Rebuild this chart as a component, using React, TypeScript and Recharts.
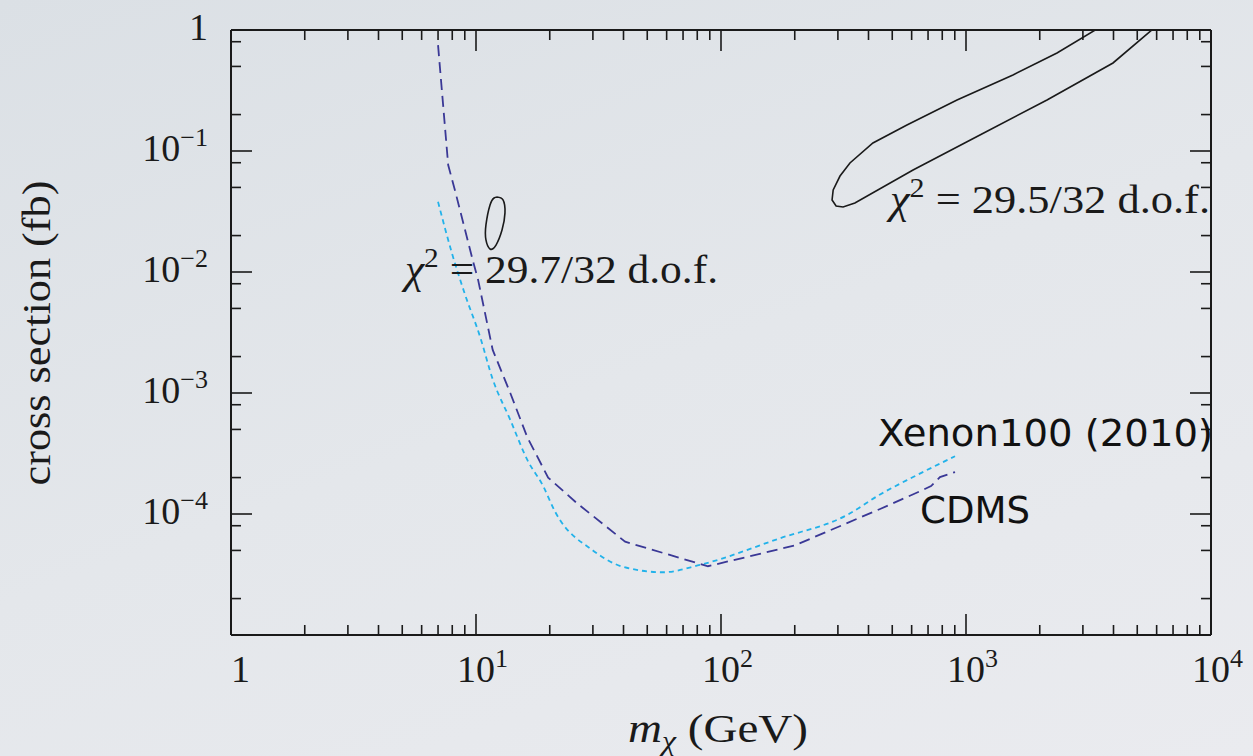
import React from "react";
import { LineChart, Line, XAxis, YAxis } from "recharts";

// axis ticks (log decades with minor marks)
const massTicks = [
  1, 2, 3, 4, 5, 6, 7, 8, 9, 10, 20, 30, 40, 50, 60, 70, 80, 90, 100, 200, 300,
  400, 500, 600, 700, 800, 900, 1000, 2000, 3000, 4000, 5000, 6000, 7000, 8000,
  9000, 10000,
];
const sigmaTicks = [
  1e-5, 2e-5, 5e-5, 8e-5, 1e-4, 2e-4, 5e-4, 8e-4, 1e-3, 2e-3, 5e-3, 8e-3, 0.01,
  0.02, 0.05, 0.08, 0.1, 0.2, 0.5, 0.8, 1,
];

// CDMS limit
const cdmsMass = [7.0, 7.7, 8.2, 9.7, 10.2, 11.7, 13.8, 16.2, 19.7, 25.8, 40.6, 88.5, 200, 446, 667, 720, 783, 902];
const cdmsSigma = [0.75, 0.0766, 0.0476, 0.0125, 8.6e-3, 2.27e-3, 1.0e-3, 4.3e-4, 2.0e-4, 1.23e-4, 5.9e-5, 3.7e-5, 5.5e-5, 1.1e-4, 1.58e-4, 1.7e-4, 2.02e-4, 2.22e-4];

// Xenon100 (2010) limit
const xenonMass = [7.0, 8.0, 9.0, 10.4, 11.7, 13.8, 16.2, 18.8, 21, 30, 40, 58, 82, 174, 327, 446, 608, 902];
const xenonSigma = [0.038, 0.014, 6.6e-3, 2.9e-3, 1.3e-3, 6.0e-4, 2.8e-4, 1.7e-4, 1.05e-4, 5.0e-5, 3.65e-5, 3.3e-5, 3.8e-5, 6.3e-5, 9.8e-5, 1.45e-4, 2.02e-4, 3.0e-4];

// fit contours
const lowFitMass = [12.18, 12.89, 13.13, 12.77, 12.07, 11.41, 10.98, 10.98, 11.41, 11.85, 12.18];
const lowFitSigma = [0.0417, 0.0394, 0.0308, 0.0222, 0.0167, 0.0155, 0.0184, 0.0245, 0.0358, 0.0409, 0.0417];
const highFitMass = [3425, 2352, 1555, 919, 574, 417, 336, 306, 287, 284, 295, 315, 352, 608, 1140, 2141, 3981, 5799];
const highFitSigma = [1.02, 0.645, 0.425, 0.264, 0.164, 0.1165, 0.0796, 0.0621, 0.0476, 0.0394, 0.0351, 0.0345, 0.0372, 0.0697, 0.1356, 0.264, 0.534, 1.02];

const toPoints = (ms: number[], ss: number[]) => ms.map((m, i) => ({ m, s: ss[i] }));

const SERIF = "'Liberation Serif', 'DejaVu Serif', serif";
const SANS = "'DejaVu Sans', 'Open Sans', sans-serif";
const INK = "#1a1a1a";

const isDecade = (v: number) => Math.abs(Math.log10(v) - Math.round(Math.log10(v))) < 1e-6;

const PowerText = (props: { x: number; y: number; v: number; anchor: string }) => {
  const exp = Math.round(Math.log10(props.v));
  if (exp === 0) {
    return (
      <text x={props.x} y={props.y} textAnchor={props.anchor} fontFamily={SERIF} fontSize={38} fill={INK}>
        1
      </text>
    );
  }
  const sup = exp < 0 ? `\u2212${-exp}` : `${exp}`;
  return (
    <text x={props.x} y={props.y} textAnchor={props.anchor} fontFamily={SERIF} fontSize={38} fill={INK}>
      <tspan>10</tspan>
      <tspan fontSize={26} dy={-15}>{sup}</tspan>
    </text>
  );
};

const MassTick = (props: any) => {
  const { x, y, payload, side } = props;
  const v = payload.value;
  const major = isDecade(v);
  const len = major ? 21 : 10;
  const dir = side === "bottom" ? -1 : 1;
  return (
    <g>
      <line x1={x} y1={y} x2={x} y2={y + dir * len} stroke={INK} strokeWidth={1.6} />
      {side === "bottom" && major && (
        <PowerText x={v === 1 ? x : x - 19} y={y + 47} v={v} anchor="start" />
      )}
    </g>
  );
};

const SigmaTick = (props: any) => {
  const { x, y, payload, side } = props;
  const v = payload.value;
  const major = isDecade(v);
  const len = major ? 21 : 10;
  const dir = side === "left" ? 1 : -1;
  return (
    <g>
      <line x1={x} y1={y} x2={x + dir * len} y2={y} stroke={INK} strokeWidth={1.6} />
      {side === "left" && major && v > 1e-5 && (
        <PowerText x={x - 23} y={y + 10} v={v} anchor="end" />
      )}
    </g>
  );
};

const frame = { stroke: INK, strokeWidth: 2 };

export default function App() {
  return (
    <div
      style={{
        position: "absolute",
        left: 0,
        top: 0,
        width: 1253,
        height: 756,
        background: "linear-gradient(160deg, #dbe0e5 0%, #e4e7eb 50%, #eaebef 100%)",
        overflow: "hidden",
      }}
    >
      <LineChart width={1253} height={756} margin={{ top: 29, right: 41, bottom: 0, left: 0 }}>
        <XAxis
          dataKey="m"
          type="number"
          scale="log"
          domain={[1, 10000]}
          allowDataOverflow
          ticks={massTicks}
          interval={0}
          orientation="bottom"
          height={121}
          tickSize={0}
          tickMargin={0}
          tickLine={false}
          axisLine={frame}
          tick={(p: any) => <MassTick {...p} side="bottom" />}
        />
        <XAxis
          xAxisId="top"
          dataKey="m"
          type="number"
          scale="log"
          domain={[1, 10000]}
          allowDataOverflow
          ticks={massTicks}
          interval={0}
          orientation="top"
          height={1}
          tickSize={0}
          tickMargin={0}
          tickLine={false}
          axisLine={frame}
          tick={(p: any) => <MassTick {...p} side="top" />}
        />
        <YAxis
          dataKey="s"
          type="number"
          scale="log"
          domain={[1e-5, 1]}
          allowDataOverflow
          ticks={sigmaTicks}
          interval={0}
          orientation="left"
          width={231}
          tickSize={0}
          tickMargin={0}
          tickLine={false}
          axisLine={frame}
          tick={(p: any) => <SigmaTick {...p} side="left" />}
        />
        <YAxis
          yAxisId="right"
          dataKey="s"
          type="number"
          scale="log"
          domain={[1e-5, 1]}
          allowDataOverflow
          ticks={sigmaTicks}
          interval={0}
          orientation="right"
          width={1}
          tickSize={0}
          tickMargin={0}
          tickLine={false}
          axisLine={frame}
          tick={(p: any) => <SigmaTick {...p} side="right" />}
        />
        <Line
          data={toPoints(xenonMass, xenonSigma)}
          dataKey="s"
          type="monotone"
          stroke="#22b2ea"
          strokeWidth={1.8}
          strokeDasharray="5 4"
          dot={false}
          isAnimationActive={false}
        />
        <Line
          data={toPoints(cdmsMass, cdmsSigma)}
          dataKey="s"
          type="linear"
          stroke="#3a3896"
          strokeWidth={1.8}
          strokeDasharray="11 6"
          dot={false}
          isAnimationActive={false}
        />
        <Line
          data={toPoints(lowFitMass, lowFitSigma)}
          dataKey="s"
          type="natural"
          stroke={INK}
          strokeWidth={1.6}
          dot={false}
          isAnimationActive={false}
        />
        <Line
          xAxisId="top"
          yAxisId="right"
          data={toPoints(highFitMass, highFitSigma)}
          dataKey="s"
          type="linear"
          stroke={INK}
          strokeWidth={1.6}
          dot={false}
          isAnimationActive={false}
        />
      </LineChart>
      <svg
        width={1253}
        height={756}
        style={{ position: "absolute", left: 0, top: 0, pointerEvents: "none" }}
      >
        <text
          transform="translate(50,333) rotate(-90)"
          textAnchor="middle"
          fontFamily={SERIF}
          fontSize={40}
          fill={INK}
          textLength={305}
          lengthAdjust="spacingAndGlyphs"
        >
          cross section (fb)
        </text>
        <text x={628} y={742} fontFamily={SERIF} fontSize={40} fill={INK} textLength={180} lengthAdjust="spacingAndGlyphs">
          <tspan fontStyle="italic">m</tspan>
          <tspan fontStyle="italic" fontSize={27} dy={8}>χ</tspan>
          <tspan dy={-8}> (GeV)</tspan>
        </text>
        <text x={405} y={283} fontFamily={SERIF} fontSize={40} fill={INK} textLength={313} lengthAdjust="spacingAndGlyphs">
          <tspan fontStyle="italic">χ</tspan>
          <tspan fontSize={27} dy={-16}>2</tspan>
          <tspan dy={16}> = 29.7/32 d.o.f.</tspan>
        </text>
        <text x={890} y={213} fontFamily={SERIF} fontSize={40} fill={INK} textLength={320} lengthAdjust="spacingAndGlyphs">
          <tspan fontStyle="italic">χ</tspan>
          <tspan fontSize={27} dy={-16}>2</tspan>
          <tspan dy={16}> = 29.5/32 d.o.f.</tspan>
        </text>
        <text x={878} y={446} fontFamily={SANS} fontSize={38} fill="#111" textLength={335} lengthAdjust="spacingAndGlyphs">
          Xenon100 (2010)
        </text>
        <text x={920} y={523} fontFamily={SANS} fontSize={38} fill="#111" textLength={110} lengthAdjust="spacingAndGlyphs">
          CDMS
        </text>
      </svg>
    </div>
  );
}
